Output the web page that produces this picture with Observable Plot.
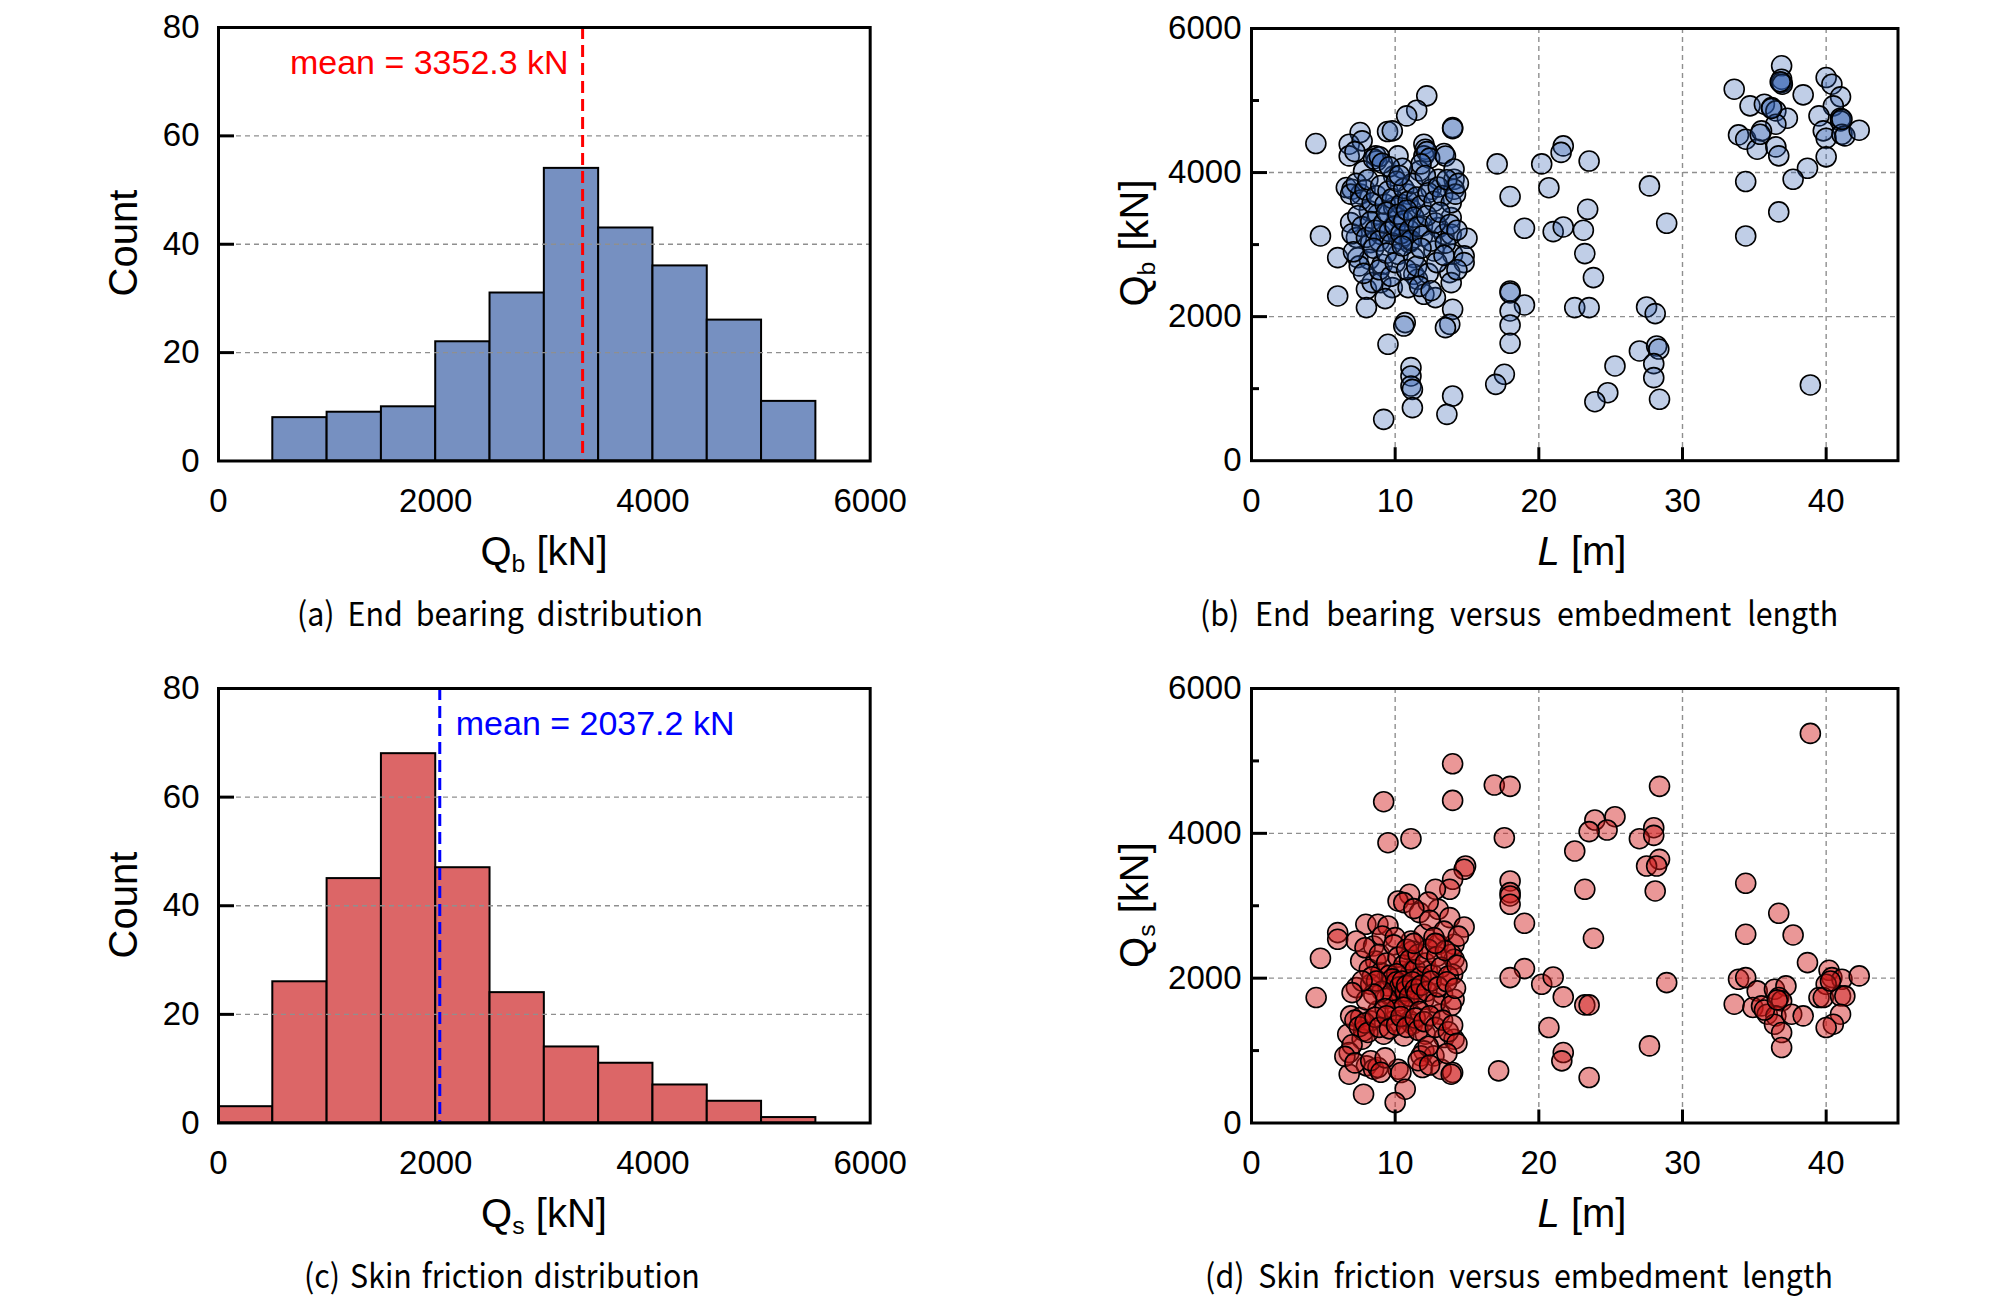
<!DOCTYPE html>
<html><head><meta charset="utf-8">
<script src="https://cdn.jsdelivr.net/npm/d3@7"></script>
<script src="https://cdn.jsdelivr.net/npm/@observablehq/plot@0.6"></script>
<style>
html,body{margin:0;padding:0;background:#fff;}
#root{position:relative;width:2008px;height:1301px;overflow:hidden;background:#fff;font-family:"Liberation Sans",Arial,sans-serif;color:#000;}
.title{position:absolute;font-size:40px;white-space:nowrap;transform:translate(-50%,-50%);line-height:1;}
.ytitle{transform:translate(-50%,-50%) rotate(-90deg);}
.caption{position:absolute;font-family:"Noto Sans CJK KR",sans-serif;font-size:33px;white-space:nowrap;transform:translate(-50%,-50%) scaleX(0.92);line-height:1;}
sub{font-size:0.62em;vertical-align:-0.28em;line-height:0;}
</style></head>
<body><div id="root"></div>
<script>
// ---------- data ----------
const qbEdges = [500,1000,1500,2000,2500,3000,3500,4000,4500,5000,5500];
const qbCounts = [8,9,10,22,31,54,43,36,26,11];
const qbMean = 3352.3;

const qsEdges = [0,500,1000,1500,2000,2500,3000,3500,4000,4500,5000,5500];
const qsCounts = [3,26,45,68,47,24,14,11,7,4,1];
const qsMean = 2037.2;

const countTicks = [0,20,40,60,80];
const countGrid = [20,40,60];
const kNTicks = [0,2000,4000,6000];
const lengthTicks = [0,10,20,30,40];
const lengthGrid = [10,20,30,40];
const kNGrid = [2000,4000];
const kNMinor = [1000,3000,5000];

// End bearing Qb [kN] versus embedment length L [m]
const endBearingPoints = [
[17.1,4120],[20.2,4120],[21.7,4370],[21.55,4280],[23.5,4160],[18.0,3667],[20.7,3790],[27.7,3815],[23.4,3490],[19.0,3227],
[21.0,3180],[21.7,3245],[23.1,3200],[28.9,3296],[23.2,2875],[23.8,2542],[18.0,2356],[18.0,2330],[19.0,2162],[18.0,2079],
[22.5,2125],[23.5,2125],[27.5,2134],[28.1,2042],[18.0,1884],[18.0,1630],[17.6,1199],[17.0,1060],[25.3,1315],[27.0,1523],
[28.2,1593],[28.35,1550],[28.0,1347],[28.0,1153],[24.8,944],[23.9,819],[28.4,852],[38.9,1051],
[33.6,5157],[36.9,5482],[36.9,5296],[36.9,5250],[36.95,5227],[38.4,5079],[34.7,4926],[35.7,4949],[36.2,4903],[36.5,4856],
[37.3,4755],[36.5,4671],[33.9,4523],[34.4,4463],[35.2,4324],[35.5,4579],[35.4,4532],[36.5,4356],[36.7,4232],[40.0,5319],
[40.4,5227],[41.0,5051],[40.5,4926],[39.5,4787],[41.0,4755],[41.0,4718],[39.8,4579],[40.0,4477],[41.1,4532],[41.3,4509],
[42.3,4588],[40.0,4218],[38.7,4060],[37.7,3907],[34.4,3875],[36.7,3454],[34.4,3120],[36.8,5260],[36.2,4890],[41.1,4740],
[12.2,5065],[11.5,4866],[10.8,4787],[14.0,4625],[14.0,4610],[7.56,4556],[9.47,4570],[9.8,4579],[4.48,4403],[6.8,4394],
[7.7,4440],[6.8,4231],[12.0,4394],[12.1,4324],[12.0,4231],[13.4,4264],[8.65,4231],[8.7,4162],[10.2,4231],[7.8,4023],
[9.9,3954],[11.7,4023],[13.0,3907],[14.1,3907],[14.1,3769],[12.5,3769],[6.6,3792],[7.0,3769],[7.6,3700],[10.9,3700],
[8.2,3468],[8.8,3421],[9.9,3514],[11.1,3491],[10.2,3375],[11.9,3259],[13.0,3236],[13.9,3375],[6.9,3305],[4.8,3120],
[13.4,3143],[13.9,3143],[15.0,3088],[7.3,3097],[8.3,3028],[9.0,3143],[10.4,3074],[10.97,3028],[10.6,3120],[6.0,2819],
[7.4,2819],[8.2,2796],[9.1,2727],[10.2,2866],[11.3,2819],[12.7,2912],[14.0,2866],[14.8,2843],[14.8,2750],[7.5,2704],
[11.3,2588],[11.55,2518],[13.8,2611],[13.9,2472],[8.0,2380],[8.4,2472],[9.0,2472],[9.8,2403],[10.9,2403],[12.0,2310],
[12.8,2264],[6.0,2287],[8.0,2125],[14.0,2102],[10.7,1917],[10.6,1870],[13.8,1893],[13.5,1847],[9.5,1616],[11.1,1292],
[11.1,1176],[11.1,1037],[11.2,990],[11.2,736],[14.0,898],[13.6,643],[9.2,574],
[8.5,4190],[8.9,4220],[9.1,4130],[12.2,4290],[12.4,4200],[13.5,4230],[14.1,4050],[7.2,4290],[11.8,4120],[10.5,4060],
[9.6,4080],[6.9,3700],[7.3,3850],[7.6,3620],[7.9,3760],[8.1,3900],[8.4,3580],[8.7,3680],[9.0,3820],[9.3,3560],
[9.5,3740],[9.8,3640],[10.1,3880],[10.4,3560],[10.6,3780],[10.9,3600],[11.2,3850],[11.5,3660],[11.8,3540],[12.1,3960],
[12.3,3720],[12.7,3600],[13.0,3800],[13.3,3680],[13.6,3900],[13.9,3580],[14.2,3700],[14.4,3850],[10.3,3960],[7.0,3150],
[7.4,3400],[7.7,3250],[8.0,3100],[8.3,3320],[8.6,3200],[8.9,3050],[9.2,3300],[9.4,3450],[9.6,3180],[9.8,3020],
[10.0,3260],[10.2,3420],[10.4,3150],[10.6,3330],[10.8,3480],[11.0,3200],[11.1,3060],[11.3,3380],[11.6,3250],[11.9,3120],
[12.2,3400],[12.5,3050],[12.8,3300],[13.1,3450],[13.5,3020],[13.8,3280],[14.3,3200],[7.1,2900],[7.8,2600],[8.5,2950],
[8.9,2650],[9.4,2880],[9.7,2560],[10.0,2750],[10.5,2980],[10.8,2650],[11.5,2700],[11.8,2950],[12.3,2600],[12.9,2750],
[13.4,2850],[14.3,2650],[11.7,2420],[12.5,2360],[9.3,2250]
];

// Skin friction Qs [kN] versus embedment length L [m]
const skinFrictionPoints = [
[38.9,5380],[16.9,4667],[18.0,4649],[28.4,4649],[25.3,4230],[23.9,4184],[24.75,4046],[23.5,4023],[17.6,3940],[28.0,4078],
[27.0,3926],[28.0,3972],[22.5,3756],[28.4,3641],[27.5,3549],[28.2,3549],[18.0,3342],[18.0,3181],[18.0,3135],[18.0,3020],
[23.2,3227],[28.1,3204],[19.0,2758],[23.8,2551],[34.4,3310],[36.7,2896],[34.4,2606],[37.7,2597],[38.7,2215],[19.0,2132],
[18.0,2008],[20.2,1916],[21.0,2017],[21.7,1741],[23.2,1631],[23.5,1631],[28.9,1939],[20.7,1318],[21.7,973],[21.6,858],
[23.5,628],[27.7,1065],[17.2,720],
[33.9,1985],[34.4,2008],[33.6,1640],[35.2,1824],[34.9,1594],[35.5,1617],[35.9,1502],[36.4,1847],[37.2,1893],[36.7,1732],
[36.9,1686],[36.5,1479],[36.4,1364],[36.9,1249],[36.9,1042],[37.6,1502],[38.4,1479],[40.2,2109],[40.4,2008],[41.1,1985],
[42.3,2031],[40.0,1916],[39.5,1732],[39.8,1732],[41.0,1755],[41.3,1755],[41.0,1502],[40.5,1364],[40.0,1318],
[35.7,1560],[36.6,1700],[40.3,1960],
[14.0,4960],[9.2,4437],[14.0,4455],[9.5,3871],[11.1,3926],[14.9,3549],[14.8,3503],[14.0,3365],[13.8,3227],[12.8,3227],
[11.0,3158],[10.2,3066],[10.6,3043],[11.7,2905],[13.0,2951],[13.8,2836],[14.8,2707],[6.0,2629],[6.0,2537],[7.96,2744],
[8.8,2744],[9.5,2721],[7.3,2514],[8.5,2445],[9.1,2583],[11.1,2514],[12.0,2606],[13.0,2468],[14.1,2468],[11.2,2376],
[13.9,2330],[14.1,2261],[4.8,2275],[7.6,2238],[8.65,2238],[8.2,2123],[9.0,2077],[10.4,2100],[11.1,2077],[12.25,2100],
[14.0,2054],[4.5,1732],[7.3,1870],[8.3,1916],[9.5,1893],[9.7,1778],[10.4,1778],[10.3,1686],[10.9,1686],[12.0,1709],
[13.3,1778],[14.1,1709],[6.9,1479],[7.6,1456],[8.3,1410],[8.8,1548],[9.9,1410],[11.0,1410],[11.2,1364],[13.1,1502],
[6.7,1226],[7.7,1157],[7.8,1272],[9.2,1226],[10.6,1203],[12.1,1226],[13.4,1180],[14.1,1157],[6.8,973],[12.0,996],
[11.8,927],[12.7,927],[8.0,789],[8.5,743],[8.8,766],[10.2,743],[10.4,697],[11.9,766],[13.2,743],[14.0,697],
[13.9,674],[6.8,674],[7.8,398],[10.7,467],[10.0,283],
[12.3,3050],[11.3,2960],[12.4,2800],[13.4,2650],[10.0,2560],[14.4,2580],[12.7,2560],
[7.9,2420],[8.9,2330],[9.4,2210],[9.9,2460],[10.2,2290],[10.6,2180],[10.8,2400],[11.0,2250],[11.4,2120],[11.6,2330],
[11.8,2020],[12.1,2210],[12.3,2400],[12.6,2050],[12.9,2300],[13.2,2150],[13.5,2380],[13.7,2030],[14.3,2180],[9.6,2040],
[10.1,2060],[8.4,2020],[11.3,2480],[12.8,2480],
[9.8,1990],[10.1,1950],[10.3,1880],[10.5,1960],[10.7,1820],[10.8,1900],[11.0,1750],[11.2,1950],[11.4,1850],[11.5,1780],
[9.4,1720],[9.1,1820],[8.7,1960],[8.5,1780],[8.0,1700],[7.7,1960],[7.0,1800],[11.8,1900],[12.2,1820],[12.5,1960],
[12.8,1660],[13.0,1880],[13.6,1950],[13.9,1620],[14.2,1860],[10.0,1560],[10.6,1600],[11.7,1540],[9.3,1580],
[7.2,1420],[7.5,1330],[7.9,1380],[8.1,1250],[8.6,1460],[8.9,1320],[9.4,1480],[9.6,1300],[10.1,1350],[10.4,1470],
[10.8,1320],[11.4,1450],[11.6,1280],[12.0,1400],[12.4,1480],[12.8,1320],[13.3,1420],[13.7,1260],[14.0,1350],[14.3,1100],
[7.0,1080],[12.3,1060],
[6.5,920],[7.2,830],[8.3,860],[9.3,900],[9.0,700],[11.6,860],[12.4,800],[13.6,960]
];

// ---------- layout ----------
const root = document.getElementById("root");
const M = {l:140, r:40, t:40, b:80};
const FONT = "'Liberation Sans', Arial, Helvetica, sans-serif";
const GRID = {stroke:"#8f8f8f", strokeDasharray:"5,4", strokeWidth:1.4};

function place(svg, fx0, fy0){
  svg.style.position = "absolute";
  svg.style.left = (fx0 - M.l) + "px";
  svg.style.top = (fy0 - M.t) + "px";
  root.appendChild(svg);
}

function histPanel(frame, edges, counts, fill, mean, meanColor, labelLeft){
  const [fx0, fx1, fy0, fy1] = frame;
  const W = fx1 - fx0, H = fy1 - fy0;
  const bins = counts.map((c, i) => ({x1: edges[i], x2: edges[i + 1], y: c}));
  const svg = Plot.plot({
    width: W + M.l + M.r, height: H + M.t + M.b,
    marginLeft: M.l, marginRight: M.r, marginTop: M.t, marginBottom: M.b,
    style: {fontSize: "33px", fontFamily: FONT, background: "transparent", overflow: "visible", color: "#000"},
    x: {domain: [0, 6000]},
    y: {domain: [0, 80]},
    marks: [
      Plot.rectY(bins, {x1: "x1", x2: "x2", y: "y", fill: fill, stroke: "#000", strokeWidth: 2}),
      Plot.ruleY(countGrid, GRID),
      Plot.ruleY(countGrid, {stroke: "#000", strokeWidth: 3, insetRight: W - 16}),
      Plot.ruleX([mean], {stroke: meanColor, strokeWidth: 3, strokeDasharray: "12,6"}),
      Plot.text([mean], {
        x: d => d, frameAnchor: "top", dy: 22,
        dx: labelLeft ? -14 : 16, textAnchor: labelLeft ? "end" : "start",
        text: d => `mean = ${d.toFixed(1)} kN`, fill: meanColor, fontSize: 34
      }),
      Plot.frame({stroke: "#000", strokeWidth: 3}),
      Plot.axisX(kNTicks, {tickSize: 0, tickPadding: 28, tickFormat: d => String(d), label: null}),
      Plot.axisY(countTicks, {tickSize: 0, tickPadding: 19, tickFormat: d => String(d), label: null})
    ]
  });
  place(svg, fx0, fy0);
}

function scatterPanel(frame, pts, fill, fillOpacity){
  const [fx0, fx1, fy0, fy1] = frame;
  const W = fx1 - fx0, H = fy1 - fy0;
  const svg = Plot.plot({
    width: W + M.l + M.r, height: H + M.t + M.b,
    marginLeft: M.l, marginRight: M.r, marginTop: M.t, marginBottom: M.b,
    style: {fontSize: "33px", fontFamily: FONT, background: "transparent", overflow: "visible", color: "#000"},
    x: {domain: [0, 45]},
    y: {domain: [0, 6000]},
    marks: [
      Plot.ruleX(lengthGrid, GRID),
      Plot.ruleY(kNGrid, GRID),
      Plot.dot(pts, {x: d => d[0], y: d => d[1], r: 10, fill: fill, fillOpacity: fillOpacity, stroke: "#000", strokeWidth: 1.6}),
      Plot.ruleX(lengthGrid, {stroke: "#000", strokeWidth: 3, insetTop: H - 13}),
      Plot.ruleY(kNGrid, {stroke: "#000", strokeWidth: 3, insetRight: W - 16}),
      Plot.ruleY(kNMinor, {stroke: "#000", strokeWidth: 3, insetRight: W - 8}),
      Plot.frame({stroke: "#000", strokeWidth: 3}),
      Plot.axisX(lengthTicks, {tickSize: 0, tickPadding: 28, tickFormat: d => String(d), label: null}),
      Plot.axisY(kNTicks, {tickSize: 0, tickPadding: 10, tickFormat: d => String(d), label: null})
    ]
  });
  place(svg, fx0, fy0);
}

const FA = [218.3, 870, 27, 460.5];
const FB = [1250.8, 1897.3, 27.5, 459.7];
const FC = [218.3, 870, 688, 1122.5];
const FD = [1250.8, 1897.3, 688, 1122.5];

histPanel(FA, qbEdges, qbCounts, "#7690c1", qbMean, "#ff0000", true);
scatterPanel(FB, endBearingPoints, "#2f5db0", 0.3);
histPanel(FC, qsEdges, qsCounts, "#dc6667", qsMean, "#0000ff", false);
scatterPanel(FD, skinFrictionPoints, "#d01818", 0.45);

// ---------- titles and captions ----------
function addText(cls, html, x, y){
  const el = document.createElement("div");
  el.className = cls;
  el.innerHTML = html;
  el.style.left = x + "px";
  el.style.top = y + "px";
  root.appendChild(el);
  return el;
}
addText("title ytitle", "Count", 123, 243);
addText("title ytitle", "Q<sub>b</sub> [kN]", 1134, 243);
addText("title ytitle", "Count", 123, 905);
addText("title ytitle", "Q<sub>s</sub> [kN]", 1134, 905);
addText("title", "Q<sub>b</sub> [kN]", 544, 551);
addText("title", "<i>L</i> [m]", 1582, 551);
addText("title", "Q<sub>s</sub> [kN]", 544, 1213);
addText("title", "<i>L</i> [m]", 1582, 1213);

const CAPTION_SCALE = 0.92;
function caption(text, x, y, targetWidth){
  const el = addText("caption", text, x, y);
  const n = (text.match(/ /g) || []).length;
  const w = el.offsetWidth;
  if (n > 0) el.style.wordSpacing = Math.max(0, (targetWidth / CAPTION_SCALE - w) / n) + "px";
}
caption("(a) End bearing distribution", 500, 612, 406);
caption("(b) End bearing versus embedment length", 1519, 612, 638);
caption("(c) Skin friction distribution", 502, 1274, 396);
caption("(d) Skin friction versus embedment length", 1519, 1274, 628);
</script></body></html>
